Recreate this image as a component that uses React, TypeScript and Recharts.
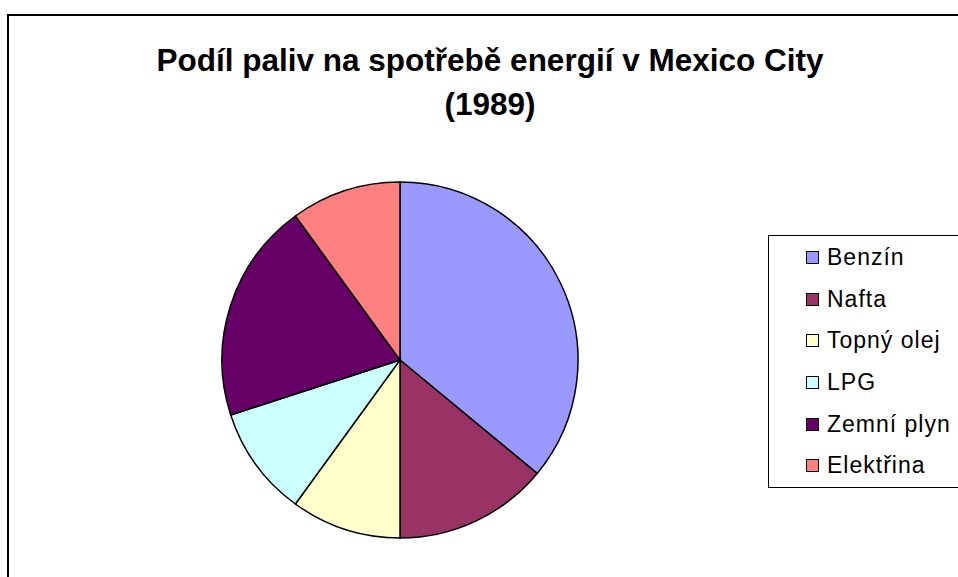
import { Cell, Pie, PieChart } from "recharts";

const fuels = ["Benzín", "Nafta", "Topný olej", "LPG", "Zemní plyn", "Elektřina"];
const shares = [36, 14, 10, 10, 20, 10];
const COLORS = ["#9999FF", "#993366", "#FFFFCC", "#CCFFFF", "#660066", "#FF8080"];

const data = fuels.map((name, i) => ({ name, value: shares[i] }));

const FONT = "'Liberation Sans', Arial, sans-serif";

const App = () => {
  return (
    <div style={{ position: "absolute", left: 0, top: 0, width: 958, height: 577, overflow: "hidden" }}>
      <div
        style={{
          position: "absolute",
          left: 7,
          top: 14,
          width: 980,
          height: 620,
          border: "2.5px solid #000",
          boxSizing: "border-box",
        }}
      />
      <div
        style={{
          position: "absolute",
          left: 0,
          top: 38,
          width: 980,
          textAlign: "center",
          fontFamily: FONT,
          fontWeight: "bold",
          fontSize: 31.5,
          lineHeight: "44px",
        }}
      >
        Podíl paliv na spotřebě energií v Mexico City
        <br />
        (1989)
      </div>
      <div style={{ position: "absolute", left: 0, top: 0 }}>
        <PieChart width={958} height={577} margin={{ top: 0, right: 0, bottom: 0, left: 0 }}>
          <Pie
            data={data}
            dataKey="value"
            nameKey="name"
            cx={400}
            cy={360}
            outerRadius={178}
            startAngle={90}
            endAngle={-270}
            stroke="#000"
            strokeWidth={1.5}
            isAnimationActive={false}
          >
            {data.map((_, i) => (
              <Cell key={`cell-${i}`} fill={COLORS[i]} />
            ))}
          </Pie>
        </PieChart>
      </div>
      <div
        style={{
          position: "absolute",
          left: 768,
          top: 235,
          border: "1px solid #000",
          background: "#fff",
          width: 200,
          height: 253,
          boxSizing: "border-box",
          paddingTop: 1,
          fontFamily: FONT,
          fontSize: 23,
          letterSpacing: 1,
        }}
      >
        {data.map((d, i) => (
          <div key={d.name} style={{ display: "flex", alignItems: "center", height: 41.6 }}>
            <span
              style={{
                display: "inline-block",
                width: 11,
                height: 11,
                marginLeft: 37,
                marginRight: 8,
                border: "1.5px solid #000",
                background: COLORS[i],
              }}
            />
            <span>{d.name}</span>
          </div>
        ))}
      </div>
    </div>
  );
};

export default App;
